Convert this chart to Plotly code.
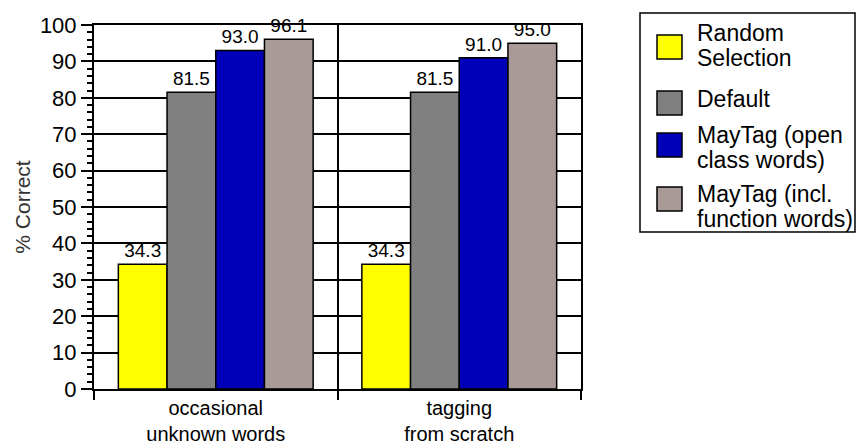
import plotly.graph_objects as go

categories = ["occasional<br>unknown words", "tagging<br>from scratch"]
series_names = ["Random Selection", "Default", "MayTag (open class words)", "MayTag (incl. function words)"]
legend_lines = [["Random", "Selection"], ["Default"], ["MayTag (open", "class words)"], ["MayTag (incl.", "function words)"]]
random_sel = [34.3, 34.3]
default = [81.5, 81.5]
maytag_open = [93.0, 91.0]
maytag_incl = [96.1, 95.0]
colors = ["#FFFF00", "#808080", "#0000B8", "#A89B97"]
y_ticks = [0, 10, 20, 30, 40, 50, 60, 70, 80, 90, 100]

values = [random_sel, default, maytag_open, maytag_incl]

W, H = 856, 448
L, R, T, B = 94, 581, 25, 389

def px(x):
    return (x - L) / (R - L)

def py(y):
    return (B - y) / (B - T)

fig = go.Figure()
for name, vals, col in zip(series_names, values, colors):
    fig.add_trace(go.Bar(
        x=categories, y=vals, name=name,
        marker=dict(color=col, line=dict(color="black", width=1.5)),
        text=[f"{v:.1f}" for v in vals], textposition="outside",
        textfont=dict(size=19, color="black", family="Liberation Sans, Arial"),
        cliponaxis=False, showlegend=False,
    ))

fig.update_layout(
    width=W, height=H,
    margin=dict(l=L, r=W - R, t=T, b=H - B),
    paper_bgcolor="white", plot_bgcolor="white",
    barmode="group", bargap=0.2, bargroupgap=0,
    font=dict(family="Liberation Sans, Arial", color="black", size=22),
)

fig.update_xaxes(
    tickson="boundaries", ticks="outside", ticklen=9, tickwidth=2, tickcolor="black",
    showgrid=True, gridcolor="black", gridwidth=1.5,
    showline=True, linecolor="black", linewidth=2, mirror=True,
    tickfont=dict(size=20), layer="below traces", automargin=False,
)
fig.update_yaxes(
    range=[0, 100], tickvals=y_ticks, ticks="outside", ticklen=11, tickwidth=2, tickcolor="black",
    minor=dict(dtick=2, ticks="outside", ticklen=5, tickwidth=1.5, tickcolor="black", showgrid=False),
    showgrid=True, gridcolor="black", gridwidth=2,
    showline=True, linecolor="black", linewidth=2, mirror=True,
    tickfont=dict(size=22), zeroline=False,
    title=dict(text="% Correct", font=dict(size=21, color="#333"), standoff=4),
    layer="below traces", automargin=False,
)

# custom legend box
fig.add_shape(type="rect", xref="paper", yref="paper",
              x0=px(640), x1=px(855), y0=py(13), y1=py(232),
              line=dict(color="black", width=1.5), fillcolor="white")
swatch_centers = [47, 103, 145, 199]
line_centers = [[31, 56], [97], [133, 158], [192, 217]]
for lines, col, cy, lcs in zip(legend_lines, colors, swatch_centers, line_centers):
    fig.add_shape(type="rect", xref="paper", yref="paper",
                  x0=px(657), x1=px(682), y0=py(cy - 12), y1=py(cy + 12),
                  line=dict(color="black", width=1.5), fillcolor=col)
    for txt, ly in zip(lines, lcs):
        fig.add_annotation(xref="paper", yref="paper", x=px(695), y=py(ly + 2),
                           text=txt, showarrow=False, xanchor="left", yanchor="middle",
                           align="left", font=dict(size=23, color="black"))

fig.write_html("out.html")
